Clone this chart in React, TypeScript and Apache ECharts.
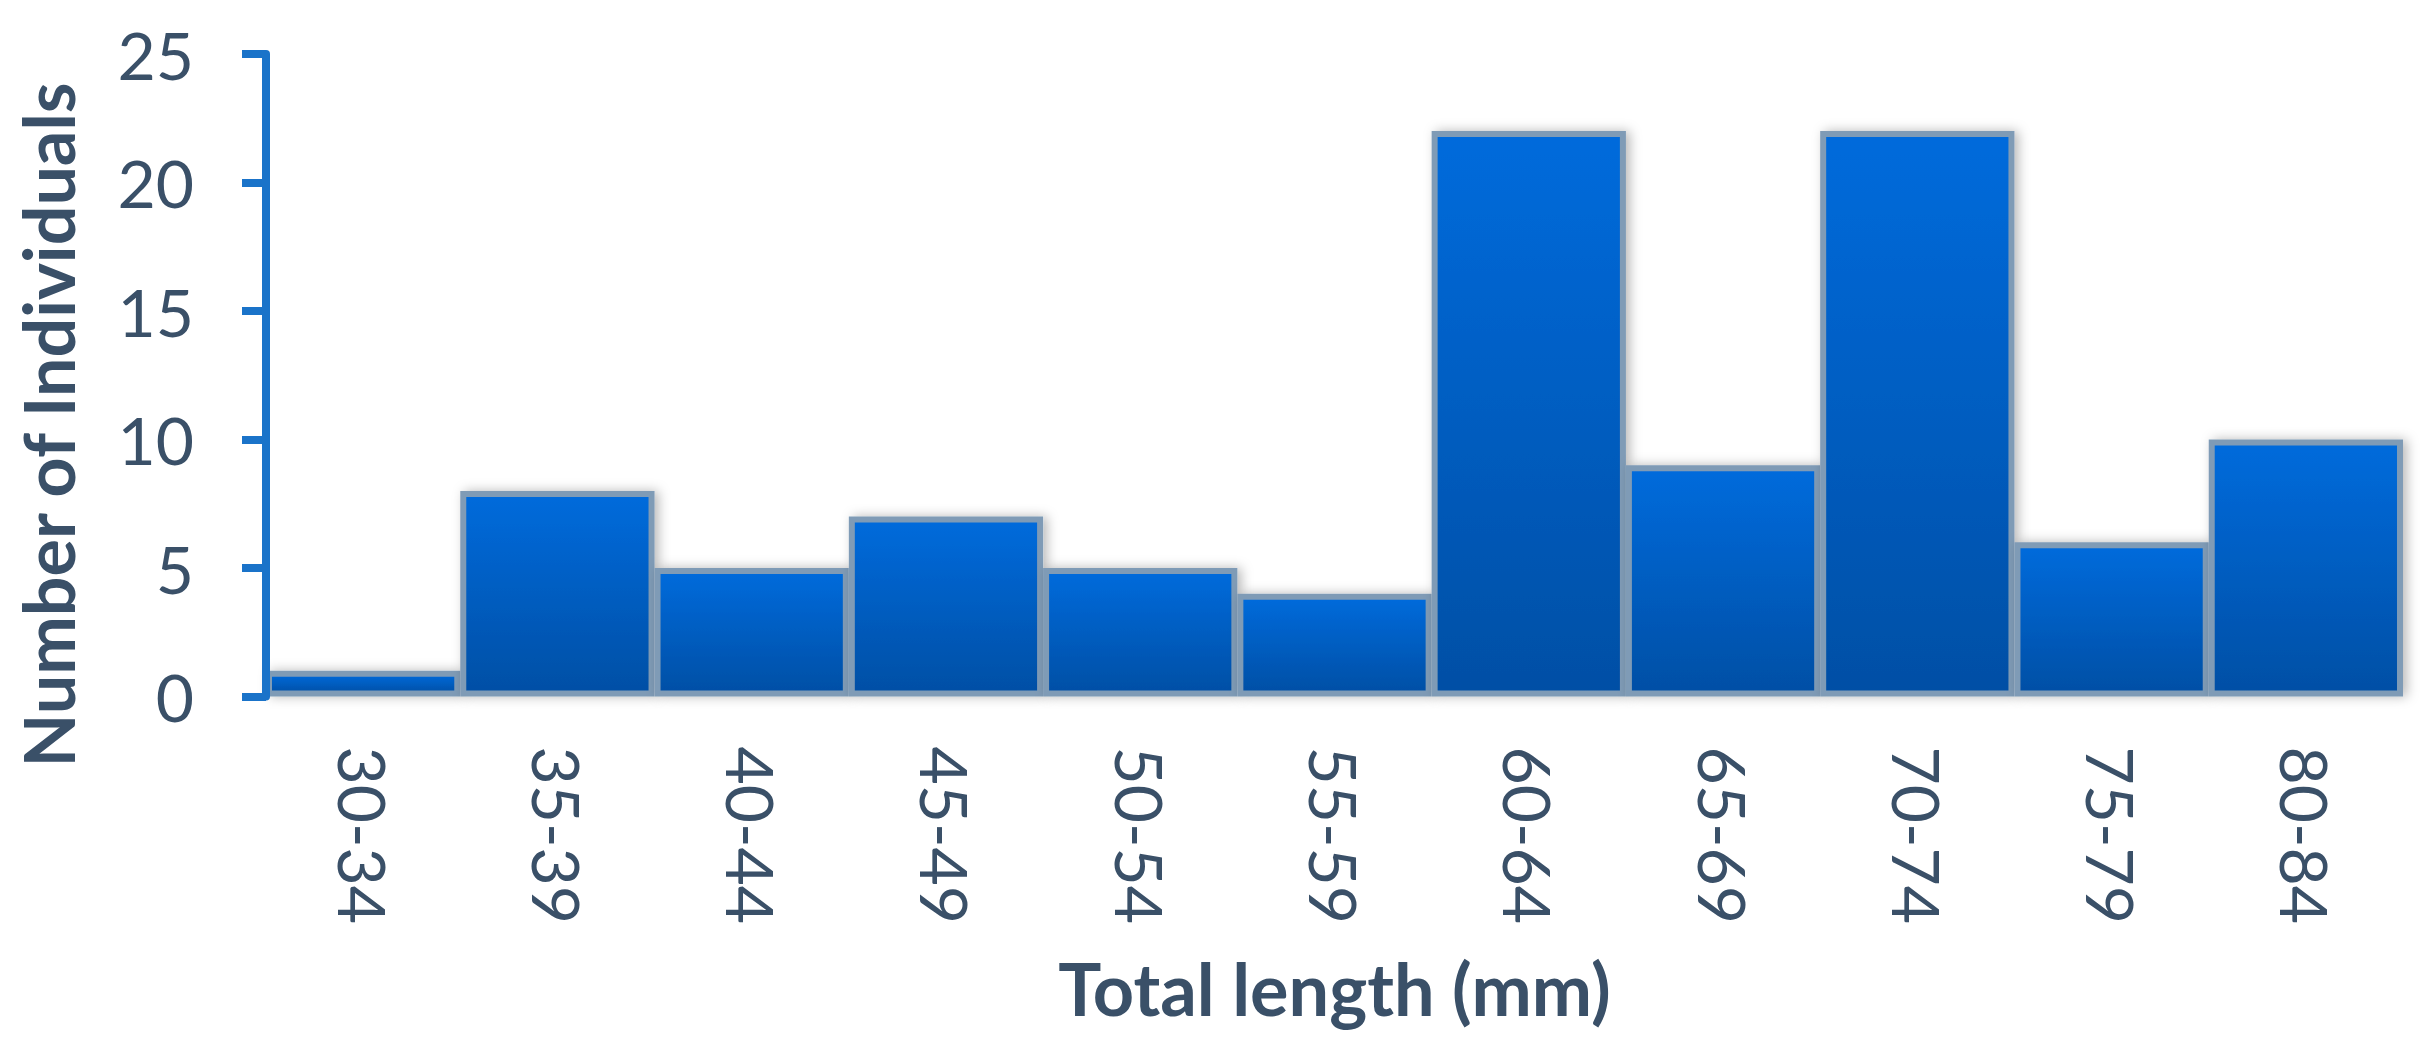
import React, { useEffect, useRef } from "react";
import * as echarts from "echarts";

const categories = ["30-34", "35-39", "40-44", "45-49", "50-54", "55-59", "60-64", "65-69", "70-74", "75-79", "80-84"];
const counts = [1, 8, 5, 7, 5, 4, 22, 9, 22, 6, 10];
const yAxisTitle = "Number of Individuals";
const xAxisTitle = "Total length (mm)";

const TEXT = "#3A5068";
const AXIS_BLUE = "#1A73C9";
const FONT = "Lato";

export default function App() {
  const ref = useRef<HTMLDivElement>(null);
  useEffect(() => {
    document.body.style.margin = "0";
    const chart = echarts.init(ref.current!, null, { renderer: "svg" });
    chart.setOption({
      animation: false,
      backgroundColor: "#ffffff",
      grid: { left: 266, right: 30, top: 54, bottom: 359.5, containLabel: false },
      xAxis: {
        type: "category",
        data: categories,
        z: 3,
        name: xAxisTitle,
        nameLocation: "middle",
        nameGap: 255,
        nameTextStyle: { fontFamily: FONT, fontWeight: "bold", fontSize: 72, color: TEXT },
        axisLine: {
          show: true,
          lineStyle: { color: "#DEE6EE", width: 9, shadowColor: "rgba(0,0,0,0.35)", shadowBlur: 2, shadowOffsetY: 2, shadowOffsetX: 2 },
        },
        axisTick: { show: false },
        axisLabel: { rotate: -90, margin: 50, fontFamily: FONT, fontSize: 66, color: TEXT },
      },
      yAxis: {
        type: "value",
        min: 0,
        max: 25,
        interval: 5,
        z: 4,
        axisLine: { show: true, lineStyle: { color: AXIS_BLUE, width: 8 } },
        axisTick: { show: true, length: 24, lineStyle: { color: AXIS_BLUE, width: 8 } },
        splitLine: { show: false },
        axisLabel: { margin: 72, fontFamily: FONT, fontSize: 66, color: TEXT },
      },
      graphic: [
        {
          type: "text",
          x: 48,
          y: 425,
          rotation: Math.PI / 2,
          style: {
            text: yAxisTitle,
            fontFamily: FONT,
            fontWeight: "bold",
            fontSize: 70,
            fill: TEXT,
            textAlign: "center",
            textVerticalAlign: "middle",
          },
        },
      ],
      series: [
        {
          type: "bar",
          data: counts,
          barWidth: "100%",
          barCategoryGap: "0%",
          itemStyle: {
            color: new echarts.graphic.LinearGradient(0, 0, 0, 1, [
              { offset: 0, color: "#006BDC" },
              { offset: 1, color: "#004FA5" },
            ]),
            borderColor: "#7F9BB6",
            borderWidth: 6,
            shadowColor: "rgba(0,0,0,0.28)",
            shadowBlur: 12,
            shadowOffsetX: 4,
            shadowOffsetY: 0,
          },
        },
      ],
    });
    return () => chart.dispose();
  }, []);
  return <div ref={ref} style={{ width: 2433, height: 1056 }} />;
}
